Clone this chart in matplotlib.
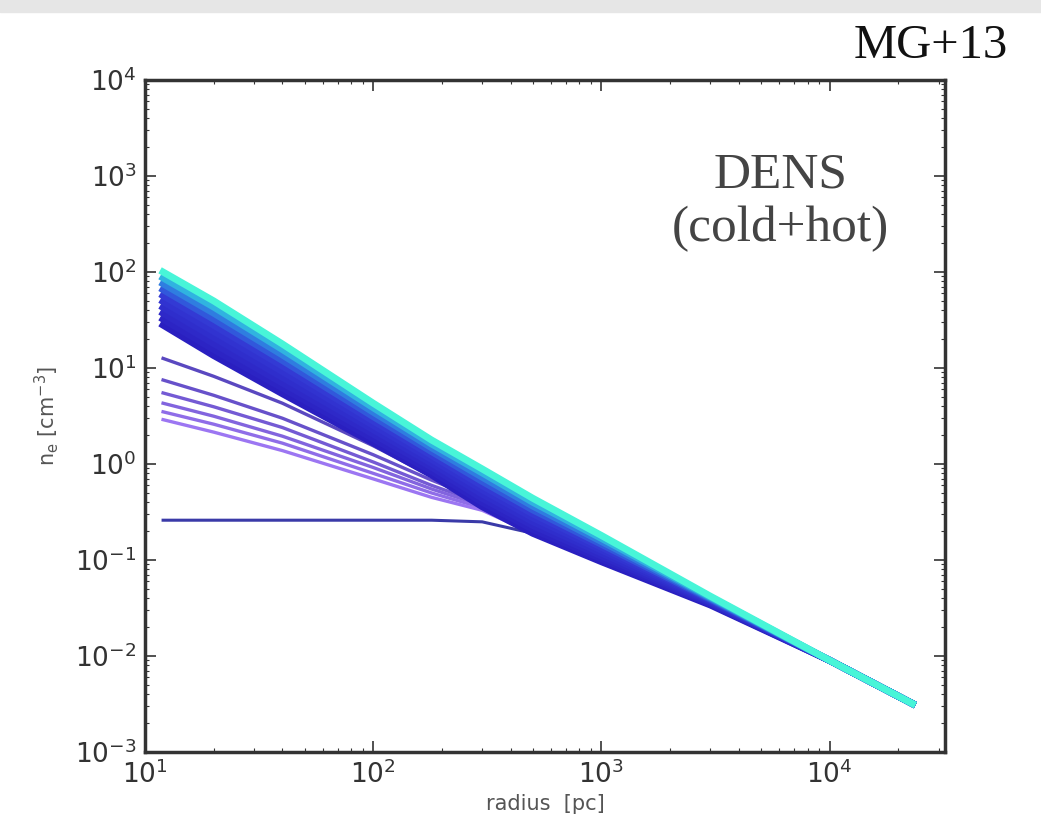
import matplotlib
matplotlib.use("Agg")
import matplotlib.pyplot as plt
from matplotlib.colors import LinearSegmentedColormap
from matplotlib.patches import Rectangle

radius = [12, 20, 40, 100, 180, 300, 500, 1000, 3000, 10000, 23000]

# early profile: flat core
flat_profile = [0.26, 0.26, 0.26, 0.26, 0.26, 0.25, 0.19, 0.096, 0.034, 0.009, 0.0032]

# the loose purple profiles under the main bundle
purple_profiles = [
    [12.6, 8.2, 4.3, 1.55, 0.75, 0.45, 0.205, 0.098, 0.034, 0.009, 0.0032],
    [7.5, 5.2, 3.0, 1.25, 0.68, 0.42, 0.200, 0.097, 0.034, 0.009, 0.0032],
    [5.5, 3.95, 2.4, 1.05, 0.60, 0.39, 0.197, 0.096, 0.034, 0.009, 0.0032],
    [4.3, 3.15, 1.95, 0.92, 0.55, 0.37, 0.195, 0.095, 0.034, 0.009, 0.0032],
    [3.5, 2.6, 1.65, 0.80, 0.50, 0.35, 0.193, 0.095, 0.034, 0.009, 0.0032],
    [2.9, 2.15, 1.38, 0.70, 0.45, 0.33, 0.190, 0.094, 0.034, 0.009, 0.0032],
]

# the dense bundle, lowest (blue) to highest (cyan)
bundle_profiles = [
    [28.0, 13.5, 5.4, 1.66, 0.770, 0.360, 0.190, 0.096, 0.0340, 0.009, 0.0032],
    [32.3, 15.6, 6.2, 1.84, 0.845, 0.400, 0.209, 0.103, 0.0348, 0.009, 0.0032],
    [37.2, 18.0, 7.0, 2.05, 0.930, 0.440, 0.229, 0.110, 0.0356, 0.009, 0.0032],
    [42.8, 20.9, 8.0, 2.28, 1.020, 0.487, 0.251, 0.118, 0.0365, 0.009, 0.0032],
    [49.3, 24.1, 9.2, 2.53, 1.120, 0.540, 0.276, 0.127, 0.0373, 0.009, 0.0032],
    [56.8, 27.9, 10.5, 2.81, 1.230, 0.595, 0.303, 0.136, 0.0382, 0.009, 0.0032],
    [65.5, 32.3, 12.0, 3.12, 1.350, 0.660, 0.333, 0.146, 0.0391, 0.009, 0.0032],
    [75.4, 37.3, 13.7, 3.47, 1.480, 0.730, 0.365, 0.156, 0.0401, 0.009, 0.0032],
    [86.8, 43.2, 15.6, 3.86, 1.620, 0.810, 0.400, 0.168, 0.0410, 0.009, 0.0032],
    [100.0, 50.0, 17.8, 4.30, 1.780, 0.890, 0.440, 0.180, 0.0420, 0.009, 0.0032],
]

xticks = [1e1, 1e2, 1e3, 1e4]
yticks = [1e-3, 1e-2, 1e-1, 1e0, 1e1, 1e2, 1e3, 1e4]

fig = plt.figure(figsize=(10.41, 8.33), dpi=100)
# light grey strip along the top edge of the slide
fig.patches.append(Rectangle((0, 0.985), 1, 0.015, transform=fig.transFigure,
                             color="#e6e6e6", zorder=0))

ax = fig.add_axes([0.1393, 0.0972, 0.7685, 0.8067])

ax.plot(radius, flat_profile, color="#3a3aa8", lw=2.2)

purple_cmap = LinearSegmentedColormap.from_list("pur", ["#5a48c0", "#9c76f2"])
for i, prof in enumerate(purple_profiles):
    ax.plot(radius, prof, color=purple_cmap(i / (len(purple_profiles) - 1)), lw=2.4)

bundle_cmap = LinearSegmentedColormap.from_list(
    "bund", [(0.0, "#2a1fc0"), (0.55, "#3338d4"), (0.75, "#2f6ee0"),
             (0.9, "#30b8e0"), (1.0, "#48f5d8")])
for i, prof in enumerate(bundle_profiles):
    ax.plot(radius, prof, color=bundle_cmap(i / (len(bundle_profiles) - 1)), lw=5)

ax.set_xscale("log")
ax.set_yscale("log")
ax.set_xlim(10, 3.2e4)
ax.set_ylim(1e-3, 1e4)
ax.set_xticks(xticks)
ax.set_yticks(yticks)
ax.tick_params(which="both", direction="in", top=True, right=True,
               colors="#333333", labelsize=19, labelcolor="#333333")
ax.tick_params(which="major", length=8, width=1.2, pad=6)
ax.tick_params(which="minor", length=3, width=0.8)
for sp in ax.spines.values():
    sp.set_linewidth(2.5)
    sp.set_color("#333333")

ax.set_xlabel("radius  [pc]", fontsize=15, color="#555555", labelpad=4)
ax.set_ylabel(r"n$_{\rm e}$ [cm$^{-3}$]", fontsize=15, color="#555555", labelpad=10)

ax.text(0.794, 0.818, "DENS\n(cold+hot)", transform=ax.transAxes, ha="center",
        va="center", fontsize=37, family="Liberation Serif", color="#444444",
        linespacing=1.2)
fig.text(0.968, 0.945, "MG+13", ha="right", va="center", fontsize=35,
         family="Liberation Serif", color="#111111")

fig.savefig("out.png", dpi=100)
